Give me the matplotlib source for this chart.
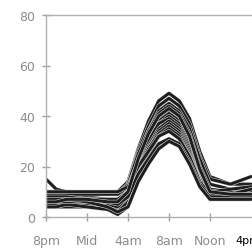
import matplotlib
matplotlib.use("Agg")
import matplotlib.pyplot as plt
import matplotlib.patheffects as pe

hours = [0, 1, 2, 4, 6, 7, 8, 9, 10, 11, 12, 13, 14, 15, 16, 18, 20]
tick_pos = [0, 4, 8, 12, 16]
tick_labels = ["8pm", "Mid", "4am", "8am", "Noon"]
last_label = "4pm"
y_ticks = [0, 20, 40, 60, 80]

sA = [10, 10, 10, 10, 10, 10, 14, 27, 38, 46, 49, 46, 39, 26, 16, 13, 13]
sB = [8, 8, 9, 9, 9, 9, 13, 26, 36, 44, 47, 44, 37, 24, 15, 13, 16]
sC = [7, 7, 7, 7, 7, 7, 12, 24, 34, 42, 45, 42, 35, 23, 13, 11, 11]
sD = [15, 11, 10, 9, 9, 9, 13, 25, 34, 41, 44, 41, 33, 20, 11, 10, 10]
sE = [5, 5, 5, 5, 4, 3, 8, 21, 31, 39, 42, 39, 31, 18, 9, 8, 8]
sF = [7, 7, 8, 8, 7, 7, 11, 22, 31, 38, 41, 38, 30, 17, 9, 9, 9]
sG = [4, 4, 4, 4, 3, 2, 6, 19, 29, 37, 40, 37, 29, 16, 8, 7, 7]
sH = [9, 9, 9, 9, 9, 9, 12, 22, 30, 37, 39, 36, 28, 16, 10, 11, 12]
sI = [6, 6, 6, 6, 5, 5, 9, 20, 28, 35, 38, 35, 27, 15, 8, 8, 9]
sJ = [5, 5, 6, 5, 5, 4, 8, 19, 27, 34, 37, 34, 26, 14, 7, 7, 7]
sK = [8, 8, 8, 7, 7, 7, 10, 20, 27, 33, 36, 33, 25, 14, 8, 8, 8]
sL = [4, 4, 5, 4, 3, 1, 4, 16, 25, 32, 35, 32, 24, 13, 7, 7, 8]
sM = [10, 10, 10, 10, 10, 10, 12, 20, 26, 32, 34, 31, 24, 14, 9, 9, 11]
sN = [6, 6, 6, 6, 6, 5, 8, 17, 23, 29, 31, 29, 22, 13, 8, 8, 8]
sO = [7, 7, 7, 6, 4, 2, 4, 14, 21, 27, 30, 28, 21, 12, 7, 7, 7]
sP = [6, 6, 7, 7, 6, 6, 10, 23, 33, 40, 43, 40, 32, 19, 10, 9, 9]
series = [sA, sB, sC, sD, sE, sF, sG, sH, sI, sJ, sK, sL, sM, sN, sO, sP]

W, H = 252, 251
fig = plt.figure(figsize=(W / 100, H / 100), dpi=100)
ax = fig.add_axes([46 / W, (H - 218) / H, 1 - 46 / W, (218 - 16) / H])

for s in series:
    ax.plot(hours, s, color="#1e1e1e", lw=2.2, solid_joinstyle="round",
            solid_capstyle="round",
            path_effects=[pe.Stroke(linewidth=2.9, foreground="#e8e8e8"), pe.Normal()])

ax.set_xlim(0, 20.1)
ax.set_ylim(0, 80)
ax.set_xticks(tick_pos)
ax.set_xticklabels(tick_labels)
ax.set_yticks(y_ticks)

gray = "#8c8c8c"
for side in ["left", "bottom", "top"]:
    ax.spines[side].set_color("#b0b0b0")
    ax.spines[side].set_linewidth(1.0)
ax.spines["right"].set_visible(False)
ax.tick_params(axis="both", colors="#a0a0a0", labelcolor=gray, labelsize=9,
               direction="inout", length=6, width=1.0)
ax.tick_params(axis="x", pad=9)
ax.tick_params(axis="y", pad=5)

fig.text(235 / W, 1 - 241 / H, last_label, color="black", fontsize=8,
         ha="left", va="center")

fig.savefig("out.png", dpi=100)
